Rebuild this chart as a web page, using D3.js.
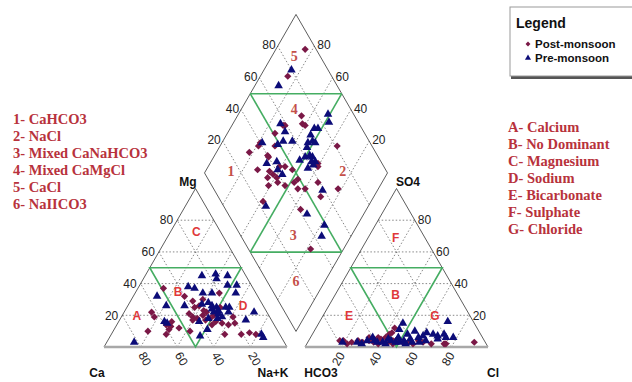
<!DOCTYPE html>
<html>
<head>
<meta charset="utf-8">
<script src="https://cdn.jsdelivr.net/npm/d3@7"></script>
<style>
  body { margin: 0; background: #fff; }
  svg { display: block; }
</style>
</head>
<body>
<svg id="piper" width="632" height="382"></svg>
<script>
// cation triangle points: [Mg %, Na+K %] (Ca = rest)
const postCations = [[37,14],[32,28],[29,34],[34,46],[30,39],[26,39],[25,37],[22,15],[19,18],[21,36],[19,39],[17,40],[18,42],[20,44],[18,49],[16,53],[19,61],[15,64],[14,61],[16,29],[13,30],[11,30],[8,30],[10,19],[10,42],[8,62],[8,71],[9,75],[8,79],[14,52],[25,51],[22,45],[17,47],[20,50],[23,43],[14,27],[12,35],[15,57]];
const preCations = [[45,31],[46,38],[45,45],[43,40],[38,27],[37,31],[34,37],[34,42],[39,48],[39,53],[34,55],[32,13],[26,21],[26,31],[28,43],[27,40],[25,49],[25,54],[25,56],[22,57],[19,55],[22,49],[18,53],[18,48],[16,44],[22,71],[17,69],[16,25],[15,27],[11,51],[7,49],[8,82],[6,84],[3,15],[24,47],[23,51],[21,52],[26,46]];
// anion triangle points: [SO4 %, Cl %] (HCO3 = rest)
const postAnions = [[12,43],[8,42],[2,75],[3,91],[4,17],[4,27],[3,28],[3,30],[6,32],[3,36],[6,37],[6,41],[3,44],[9,43],[3,52],[3,63],[2,76],[2,22],[4,33],[5,39],[2,39],[4,46],[2,47],[5,48],[3,55],[2,58],[4,60],[2,68],[3,24],[4,19]];
const preAnions = [[15,46],[11,46],[16,70],[8,72],[6,78],[9,62],[8,66],[7,69],[7,61],[3,19],[4,32],[6,34],[3,38],[3,41],[4,45],[3,48],[6,48],[4,52],[3,57],[6,59],[8,52],[10,55],[5,70],[6,74],[3,27],[2,30],[4,36],[2,43],[5,43],[3,50],[2,54],[5,55],[3,61],[4,64]];
// diamond points: [Ca+Mg %, SO4+Cl %]
const postDiamond = [[84,94],[85,76],[65,71],[71,59],[62,69],[60,70],[79,40],[82,31],[71,40],[72,30],[65,36],[62,37],[64,33],[59,38],[57,37],[61,31],[52,40],[59,23],[53,49],[41,65],[40,50],[36,81],[35,59],[22,68],[29,56],[36,41],[18,34],[72,58],[74,51],[79,38],[70,47],[70,40],[61,43],[58,46],[40,64],[47,49],[48,46],[44,46]];
const preDiamond = [[85,80],[87,68],[74,57],[54,74],[52,76],[51,86],[48,84],[69,57],[78,41],[69,37],[64,43],[61,41],[56,23],[67,53],[62,58],[54,70],[49,70],[52,64],[46,64],[43,64],[45,58],[52,56],[50,60],[48,63],[43,62],[30,59],[31,43],[18,49],[16,44],[69,49],[57,42],[53,66],[51,69],[45,62]];

const ticks = [20, 40, 60, 80];
const waterTypes = ["1- CaHCO3", "2- NaCl", "3- Mixed CaNaHCO3", "4- Mixed CaMgCl", "5- CaCl", "6- NaIICO3"];
const facies = ["A- Calcium", "B- No Dominant", "C- Magnesium", "D- Sodium", "E- Bicarbonate", "F- Sulphate", "G- Chloride"];
const seriesNames = ["Post-monsoon", "Pre-monsoon"];

const svg = d3.select("#piper");
const side = 183, H = side * Math.sqrt(3) / 2, gap = 18;
const x0 = 104, yb = 347, x1 = x0 + side + gap;
const f = d3.scaleLinear().domain([0, 100]).range([0, 1]);
const postColor = "#7a1846", preColor = "#0c0c78", green = "#45ad62";

// ternary -> screen
function cat(mg, na) { return [x0 + side * (f(na) + f(mg) / 2), yb - H * f(mg)]; }
function ani(so4, cl) { return [x1 + side * (f(cl) + f(so4) / 2), yb - H * f(so4)]; }
const bx = x0 + side + gap / 2, by = yb - gap * Math.sqrt(3) / 2;
function dia(a, b) { return [bx + side / 2 * (f(b) - f(a)), by - H * (f(a) + f(b))]; }

const line = d3.line();

// dotted grid
const grid = svg.append("g").attr("stroke", "#555").attr("stroke-width", 0.7).attr("stroke-dasharray", "1.5,2").attr("fill", "none");
ticks.forEach(v => {
  grid.append("path").attr("d", line([cat(v, 0), cat(v, 100 - v)]));
  grid.append("path").attr("d", line([cat(0, v), cat(100 - v, v)]));
  grid.append("path").attr("d", line([cat(0, 100 - v), cat(100 - v, 0)]));
  grid.append("path").attr("d", line([ani(v, 0), ani(v, 100 - v)]));
  grid.append("path").attr("d", line([ani(0, v), ani(100 - v, v)]));
  grid.append("path").attr("d", line([ani(0, 100 - v), ani(100 - v, 0)]));
  grid.append("path").attr("d", line([dia(v, 0), dia(v, 100)]));
  grid.append("path").attr("d", line([dia(0, v), dia(100, v)]));
});

// outlines
const outline = svg.append("g").attr("stroke", "#333").attr("stroke-width", 0.8).attr("fill", "none");
outline.append("path").attr("d", line([cat(0, 100), cat(100, 0), [x0, yb]]));
outline.append("path").attr("d", line([[x1, yb], ani(100, 0), ani(0, 100)]));
outline.append("path").attr("d", line([dia(0, 0), dia(100, 0), dia(100, 100), dia(0, 100)]) + "Z");
svg.append("path").attr("d", line([[x0, yb], cat(0, 100)])).attr("stroke", "#a8a8a8").attr("stroke-width", 2.5);
svg.append("path").attr("d", line([[x1, yb], ani(0, 100)])).attr("stroke", "#a8a8a8").attr("stroke-width", 2.5);

// green facies lines
const gl = svg.append("g").attr("stroke", green).attr("stroke-width", 1.6).attr("fill", "none");
gl.append("path").attr("d", line([cat(50, 0), cat(50, 50), cat(0, 50)]) + "Z");
gl.append("path").attr("d", line([ani(50, 0), ani(50, 50), ani(0, 50)]) + "Z");
gl.append("path").attr("d", line([dia(100, 50), dia(50, 100)]));
gl.append("path").attr("d", line([dia(100, 50), dia(0, 50)]));
gl.append("path").attr("d", line([dia(50, 100), dia(50, 0)]));
gl.append("path").attr("d", line([dia(50, 0), dia(0, 50)]));

// tick labels
const tl = svg.append("g").attr("font-family", "Liberation Sans, Arial, sans-serif").attr("font-size", 12).attr("fill", "#222");
ticks.forEach(v => {
  let p = cat(v, 0);
  tl.append("text").attr("x", p[0] - 4).attr("y", p[1]).attr("dy", "0.35em").attr("text-anchor", "end").text(v);
  p = ani(v, 100 - v);
  tl.append("text").attr("x", p[0] + 3).attr("y", p[1]).attr("dy", "0.35em").text(v);
  p = cat(0, 100 - v);
  tl.append("text").attr("transform", `translate(${p[0] + 1},${yb + 6}) rotate(60)`).attr("dy", "0.35em").text(v);
  p = ani(0, v);
  tl.append("text").attr("transform", `translate(${p[0]},${yb + 6}) rotate(-60)`).attr("dy", "0.35em").attr("text-anchor", "end").text(v);
  p = dia(100, v);
  tl.append("text").attr("x", p[0] - 2).attr("y", p[1] - 1).attr("dy", "0.35em").attr("text-anchor", "end").text(v);
  p = dia(v, 100);
  tl.append("text").attr("x", p[0] + 3).attr("y", p[1] - 1).attr("dy", "0.35em").text(v);
});

// axis names
const an = svg.append("g").attr("font-family", "Liberation Sans, Arial, sans-serif").attr("font-size", 12).attr("font-weight", "bold").attr("fill", "#111").attr("text-anchor", "middle");
an.append("text").attr("x", 188).attr("y", 186).text("Mg");
an.append("text").attr("x", 408).attr("y", 186).text("SO4");
an.append("text").attr("x", 97).attr("y", 377).text("Ca");
an.append("text").attr("x", 273).attr("y", 377).text("Na+K");
an.append("text").attr("x", 321).attr("y", 377).text("HCO3");
an.append("text").attr("x", 493).attr("y", 377).text("Cl");

// region letters
const rl = svg.append("g").attr("font-family", "Liberation Sans, Arial, sans-serif").attr("font-size", 12).attr("font-weight", "bold").attr("fill", "#e0383a").attr("text-anchor", "middle");
[["C", cat(73, 14)], ["B", cat(35, 23)], ["A", cat(20, 8)], ["D", cat(26, 63)],
 ["F", ani(69, 15)], ["B", ani(33, 33)], ["E", ani(20, 14)], ["G", ani(20, 61)]].forEach(d => {
  rl.append("text").attr("x", d[1][0]).attr("y", d[1][1]).attr("dy", "0.35em").text(d[0]);
});
const dl = svg.append("g").attr("font-family", "Liberation Serif, Times New Roman, serif").attr("font-size", 14).attr("font-weight", "bold").attr("fill", "#c4504a").attr("text-anchor", "middle");
[["5", dia(88, 86)], ["4", dia(71, 69)], ["1", dia(86, 15)], ["2", dia(25, 76)], ["3", dia(32, 29)], ["6", dia(16, 16)]].forEach(d => {
  dl.append("text").attr("x", d[1][0]).attr("y", d[1][1]).attr("dy", "0.35em").text(d[0]);
});

// points
const diamondSym = d3.symbol().type(d3.symbolSquare).size(26)();
const triSym = d3.symbol().type(d3.symbolTriangle).size(32)();
function drawPts(data, fn, sym, color, rot) {
  svg.append("g").selectAll("path").data(data).enter().append("path")
    .attr("d", sym)
    .attr("transform", d => { const p = fn(d[0], d[1]); return `translate(${p[0]},${p[1]})` + (rot ? " rotate(45)" : ""); })
    .attr("fill", color);
}
drawPts(postCations, cat, diamondSym, postColor, true);
drawPts(postAnions, ani, diamondSym, postColor, true);
drawPts(postDiamond, dia, diamondSym, postColor, true);
drawPts(preCations, cat, triSym, preColor, false);
drawPts(preAnions, ani, triSym, preColor, false);
drawPts(preDiamond, dia, triSym, preColor, false);

// side lists
const lt = svg.append("g").attr("font-family", "Liberation Serif, Times New Roman, serif").attr("font-size", 14.5).attr("font-weight", "bold").attr("fill", "#b8323c");
waterTypes.forEach((t, i) => lt.append("text").attr("x", 13).attr("y", 124 + i * 17).text(t));
facies.forEach((t, i) => lt.append("text").attr("x", 508).attr("y", 132 + i * 17).text(t));

// legend
const lg = svg.append("g");
lg.append("rect").attr("x", 511).attr("y", 10).attr("width", 130).attr("height", 69).attr("fill", "#555");
lg.append("rect").attr("x", 510).attr("y", 7).attr("width", 130).attr("height", 69).attr("fill", "#fff").attr("stroke", "#999").attr("stroke-width", 1);
lg.append("text").attr("x", 516).attr("y", 28).attr("font-family", "Liberation Sans, Arial, sans-serif").attr("font-size", 14).attr("font-weight", "bold").attr("fill", "#111").text("Legend");
seriesNames.forEach((s, i) => {
  const y = 44 + i * 14;
  lg.append("path").attr("d", i === 0 ? d3.symbol().type(d3.symbolSquare).size(12)() : d3.symbol().type(d3.symbolTriangle).size(16)())
    .attr("transform", `translate(528,${y})` + (i === 0 ? " rotate(45)" : "")).attr("fill", i === 0 ? postColor : preColor);
  lg.append("text").attr("x", 535).attr("y", y + 4).attr("font-family", "Liberation Sans, Arial, sans-serif").attr("font-size", 11.5).attr("font-weight", "bold").attr("fill", "#111").text(s);
});
</script>
</body>
</html>
